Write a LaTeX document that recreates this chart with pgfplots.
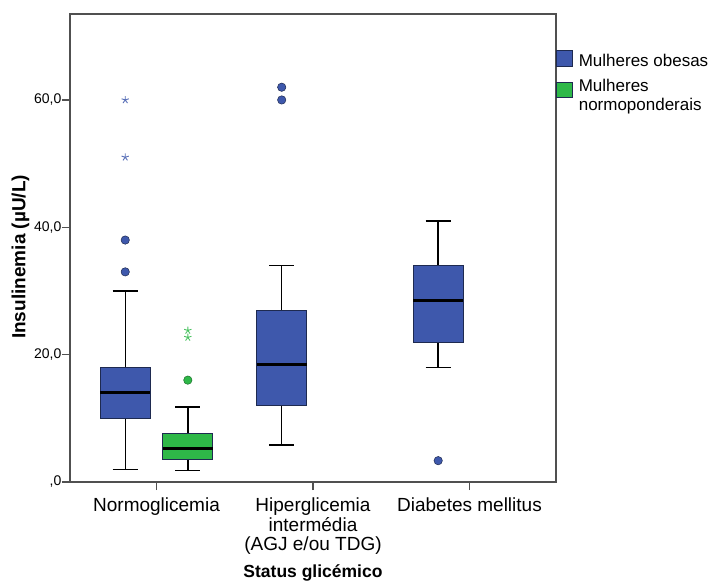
\documentclass[border=0pt]{standalone}
\usepackage{pgfplots}
\pgfplotsset{compat=1.18}
\usepgfplotslibrary{statistics}
\usepackage{fontspec}
\setmainfont{Liberation Sans}

\definecolor{spssblue}{HTML}{3E58AC}
\definecolor{spssgreen}{HTML}{2EB848}
\definecolor{axisgray}{HTML}{505050}
\definecolor{boxedge}{HTML}{1E2A50}

\begin{document}
\begin{tikzpicture}
\path[use as bounding box] (-70pt,-101pt) rectangle (642pt,482pt);
\begin{axis}[
  at={(0pt,0pt)}, anchor=south west,
  scale only axis, width=486pt, height=468pt,
  xmin=-0.553, xmax=2.553, ymin=0, ymax=73.5,
  axis line style={axisgray, line width=1.1pt},
  xtick={0,1,2},
  xticklabels={Normoglicemia, Hiperglicemia\\intermédia\\(AGJ e/ou TDG), Diabetes mellitus},
  ytick={0,20,40,60},
  yticklabels={{,0},{20,0},{40,0},{60,0}},
  xtick pos=bottom, ytick pos=left,
  tick align=outside, major tick length=8pt,
  tick style={axisgray, line width=1.1pt},
  xticklabel style={font=\fontsize{19}{19.6}\selectfont, align=center, anchor=north, inner sep=0pt, yshift=-7.6pt},
  yticklabel style={font=\fontsize{14}{16}\selectfont, anchor=east, inner sep=0pt, xshift=-0.5pt},
  xlabel={Status glicémico},
  xlabel style={font=\bfseries\fontsize{17.5}{20}\selectfont, at={(axis description cs:0.5,-0.2041)}, anchor=base},
  ylabel={Insulinemia (µU/L)},
  ylabel style={font=\bfseries\fontsize{19}{22}\selectfont, at={(axis description cs:-0.0916,0.481)}, anchor=base},
  legend style={at={(axis description cs:1,1)}, anchor=north west, yshift=-35.6pt,
    draw=none, fill=none, inner sep=0pt, outer sep=0pt,
    font=\fontsize{17}{19}\selectfont, row sep=11.3pt, column sep=6.5pt,
    nodes={inner sep=0pt, align=left}},
  legend cell align=left,
  boxstyle/.style={
    boxplot/draw direction=y,
    boxplot/box extend=0.32,
    boxplot/whisker extend=0.16,
    boxplot/every box/.style={draw=boxedge, fill=#1, line width=0.8pt},
    boxplot/every whisker/.style={draw=black, line width=1.4pt},
    boxplot/every median/.style={draw=black, line width=3.2pt},
  },
]

% Mulheres obesas
\addplot+[forget plot, boxstyle=spssblue, mark=none, boxplot prepared={draw position=-0.2,
  lower whisker=2, lower quartile=10, median=14, upper quartile=18, upper whisker=30}]
  coordinates {};
\addplot+[forget plot, boxstyle=spssblue, mark=none, boxplot prepared={draw position=0.8,
  lower whisker=5.8, lower quartile=12, median=18.5, upper quartile=27, upper whisker=34}]
  coordinates {};
\addplot+[forget plot, boxstyle=spssblue, mark=none, boxplot prepared={draw position=1.8,
  lower whisker=18, lower quartile=22, median=28.5, upper quartile=34, upper whisker=41}]
  coordinates {};

% Mulheres normoponderais
\addplot+[forget plot, boxstyle=spssgreen, mark=none, boxplot prepared={draw position=0.2,
  lower whisker=1.8, lower quartile=3.6, median=5.3, upper quartile=7.7, upper whisker=11.8}]
  coordinates {};

% outliers (circles) and extreme values (stars)
\addplot[forget plot, only marks, mark=*, mark size=4.2pt,
  mark options={fill=spssblue, draw=boxedge, line width=0.5pt}]
  coordinates {(-0.2,38) (-0.2,33) (0.8,62) (0.8,60) (1.8,3.35)};
\addplot[forget plot, only marks, mark=*, mark size=4.2pt,
  mark options={fill=spssgreen, draw=spssgreen!60!black, line width=0.5pt}]
  coordinates {(0.2,16)};
\addplot[forget plot, only marks, mark=star, mark size=3.8pt,
  mark options={draw=spssblue!85, line width=0.9pt}]
  coordinates {(-0.2,60) (-0.2,51)};
\addplot[forget plot, only marks, mark=star, mark size=3.8pt,
  mark options={draw=spssgreen!85, line width=0.9pt}]
  coordinates {(0.2,23.8) (0.2,22.7)};

\addlegendimage{legend image code/.code={\draw[draw=boxedge, fill=spssblue, line width=0.8pt] (0pt,-4.9pt) rectangle (15.5pt,11.1pt);}}
\addlegendentry{Mulheres obesas}
\addlegendimage{legend image code/.code={\draw[draw=boxedge, fill=spssgreen, line width=0.8pt] (0pt,-1.9pt) rectangle (15.5pt,13.1pt);}}
\addlegendentry{Mulheres\\normoponderais}
\end{axis}
\end{tikzpicture}
\end{document}
